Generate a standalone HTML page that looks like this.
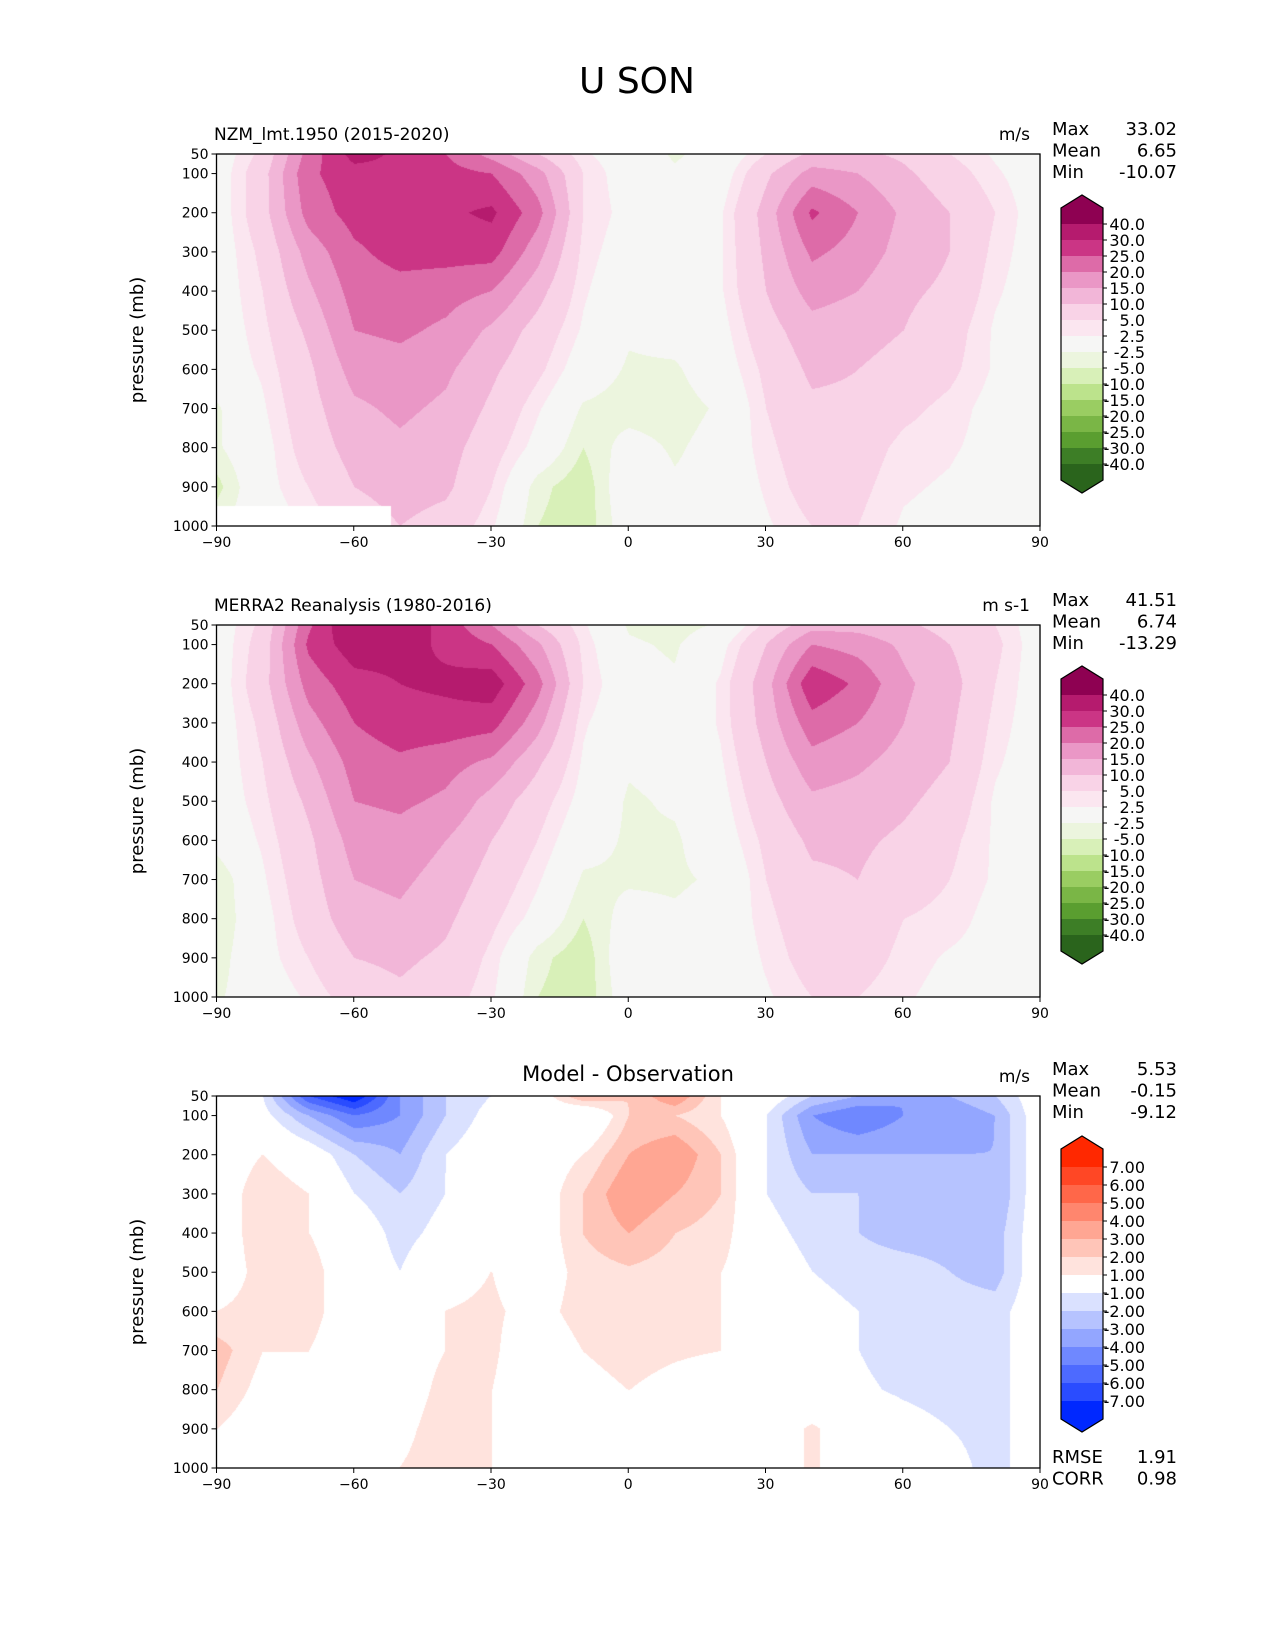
<!DOCTYPE html>
<html><head><meta charset="utf-8">
<style>
body{margin:0;background:#fff;}
#wrap{position:relative;width:1275px;height:1650px;overflow:hidden;background:#fff;font-family:"DejaVu Sans","Liberation Sans",sans-serif;}
canvas{position:absolute;}
svg{position:absolute;left:0;top:0;}
</style></head>
<body>
<div id="wrap">
<canvas id="c1"></canvas>
<canvas id="c2"></canvas>
<canvas id="c3"></canvas>
<svg id="svg" width="1275" height="1650"></svg>
</div>
<script>
const lats = [-90,-80,-70,-60,-50,-40,-30,-20,-10,0,10,20,30,40,50,60,70,80,90];
const pres = [50,100,200,300,400,500,600,700,800,900,1000];
const xTicks = [-90,-60,-30,0,30,60,90];
const yTicks = [50,100,200,300,400,500,600,700,800,900,1000];
const uLevels = [-40,-30,-25,-20,-15,-10,-5,-2.5,2.5,5,10,15,20,25,30,40];
const uLabels = ["-40.0","-30.0","-25.0","-20.0","-15.0","-10.0","-5.0","-2.5","2.5","5.0","10.0","15.0","20.0","25.0","30.0","40.0"];
const dLevels = [-7,-6,-5,-4,-3,-2,-1,1,2,3,4,5,6,7];
const dLabels = ["-7.00","-6.00","-5.00","-4.00","-3.00","-2.00","-1.00","1.00","2.00","3.00","4.00","5.00","6.00","7.00"];
const modelU = [
[0,6,22,32,29,25,18,10,3,0,-3,-1,5,11,11,9,5,2,0],
[0,8,24,28,29,27,25,17,5,0,-2,0,9,17,15,11,7,3,0],
[0,8,22,27,28,29,31,22,5,1,0,2,12,26,20,14,10,5,0],
[0,6,17,24,27,27,27,17,4,0,0,2,11,21,18,13,10,4,0],
[0,5,14,22,23,22,20,12,3,-1,0,2,10,17,15,11,9,3,0],
[0,4,11,20,21,19,14,8,2,-2,-1,1,8,13,12,10,7,2,0],
[0,3,9,17,18,16,11,6,0,-3,-3,0,6,11,10,8,6,2,0],
[-3,2,8,14,16,14,9,3,-3,-4,-4,-2,5,9,9,6,4,1,0],
[-3,1,7,12,14,12,7,1,-5,-1,-3,-1,4,8,7,4,3,1,0],
[-6,1,5,10,12,11,5,-4,-7,1,-2,-1,3,7,6,3,2,0,0],
[-3,0,3,7,10,8,3,-5,-7,0,-2,-1,2,5,5,2,1,0,0]];
const obsU = [
[0,6,24,36,34,28,20,10,3,-3,-4,-2,6,13,13,11,8,5,0],
[0,7,26,33,32,29,25,16,4,-2,-3,1,10,20,18,14,10,6,0],
[0,8,22,28,30,31,33,22,5,-1,-2,3,13,29,24,16,12,5,0],
[0,6,18,25,28,28,27,17,3,-1,-2,3,12,23,20,15,11,4,0],
[0,5,14,22,24,22,19,11,2,-2,-1,2,10,18,16,13,10,3,0],
[0,4,11,20,21,19,13,7,1,-3,-2,1,8,14,13,11,8,2,0],
[-1,3,9,17,18,15,10,5,-1,-3,-3,0,6,11,11,9,6,2,0],
[-5,2,8,15,16,13,8,3,-3,-3,-3,-2,5,9,10,7,5,2,0],
[-5,1,7,13,14,11,6,1,-5,-1,-2,-1,4,8,8,5,4,1,0],
[-4,1,5,10,11,9,4,-4,-7,1,-1,-1,3,7,7,4,2,1,0],
[-3,0,3,7,9,7,3,-5,-7,0,-1,0,2,5,5,3,1,0,0]];
const diffU = [
[0,-1,-6,-8,-4,-2,-1,0,3,2,4,1,0,-2,-3,-4,-3,-2,0],
[0,-0.5,-3,-5,-4,-2,-0.5,0,-1,2,2,1,-1,-4,-5,-4,-4,-3,0],
[0,1,0,-2,-3,-1,0,0,1,3,4,2,-1,-3,-3,-3,-3,-3,0],
[0,1.8,1,-1,-2,-1,0,0,2,4,3,2,-1,-2,-2,-3,-3,-3,0],
[0,1.8,1,0,-1.5,-0.5,0,0,2,3,2,1.5,-0.5,-1.5,-2,-2.5,-2.5,-2.5,0],
[0,1.5,1.5,0,-1,0.5,1,0,1.5,1.8,1.5,1,0,-1,-1.5,-1.5,-2,-2.5,0],
[1,1.5,1.5,0,0,1,1.2,0.5,1.5,1.8,1.5,1,0,-0.5,-1,-1.5,-1.5,-1.5,0],
[2.5,1,1,0,0,1,1.2,0,1,1.5,1.2,1,0,-0.5,-1,-1.5,-1.5,-1.5,0],
[2,0.5,0.5,0,0,1.5,1,0,0.5,1,0.5,0,0,-0.5,-0.8,-1.2,-1.5,-1.5,0],
[1,0,0,0,0.5,1.8,1,0,-0.5,-1,0,0,0,1.2,0,-0.5,-1,-1.5,0],
[0,0,0,0,1,1.8,1,0,-1,-0.5,0,0,0,1.2,0,0,-0.5,-1.5,0]];
const modelStats = ["33.02","6.65","-10.07"];
const obsStats = ["41.51","6.74","-13.29"];
const diffStats = ["5.53","-0.15","-9.12"];
const diffScores = ["1.91","0.98"];

const uColors = ["#2a641c","#3d7e26","#5a9e30","#7ab646","#9acd62","#bce38c","#d8f0b8","#ecf5de","#f6f6f5","#fbe6f0","#f9d3e7","#f2b6d8","#ea97c6","#dd6ba8","#cb3585","#b51b6e","#8e0152"];
const dColors = ["#0028ff","#2a4cff","#4d6aff","#6f88ff","#93a6ff","#b6c3ff","#dae1ff","#ffffff","#ffe3dd","#ffc5b8","#ffa693","#ff866e","#ff6749","#ff4725","#ff2800"];

const AX0=216.5, AW=823.5, AH=372;
const tops=[154,625,1096];
function xs(lat){return AX0+(lat+90)/180*AW;}
function ys(p,top){return top+(p-50)/950*AH;}
const NS="http://www.w3.org/2000/svg";
const svg=document.getElementById('svg');
function mk(tag,attrs,parent){const e=document.createElementNS(NS,tag);for(const k in attrs)e.setAttribute(k,attrs[k]);(parent||svg).appendChild(e);return e;}
function txt(s,x,y,size,anchor,parent){const t=mk('text',{x:x,y:y,'font-size':size,'text-anchor':anchor||'start','font-family':'DejaVu Sans, Liberation Sans, sans-serif',fill:'#000'},parent);t.textContent=s;return t;}

function interp(grid,lat,p){
  let i=0;while(i<lats.length-2&&lat>lats[i+1])i++;
  let j=0;while(j<pres.length-2&&p>pres[j+1])j++;
  const tx=Math.min(1,Math.max(0,(lat-lats[i])/(lats[i+1]-lats[i])));
  const ty=Math.min(1,Math.max(0,(p-pres[j])/(pres[j+1]-pres[j])));
  const a=grid[j][i],b=grid[j][i+1],c=grid[j+1][i],d=grid[j+1][i+1];
  return (a*(1-tx)+b*tx)*(1-ty)+(c*(1-tx)+d*tx)*ty;
}
function hex(h){return [parseInt(h.substr(1,2),16),parseInt(h.substr(3,2),16),parseInt(h.substr(5,2),16)];}
function drawField(id,grid,levels,colors,top,mask){
  const cv=document.getElementById(id);
  const W=Math.round(AW),H=AH;
  cv.width=W;cv.height=H;cv.style.left=AX0+'px';cv.style.top=top+'px';
  const ctx=cv.getContext('2d');const im=ctx.createImageData(W,H);
  const rgb=colors.map(hex);
  for(let y=0;y<H;y++){const p=50+(y+0.5)/H*950;
    for(let x=0;x<W;x++){const lat=-90+(x+0.5)/W*180;
      let c;
      if(mask&&lat<mask[0]&&p>mask[1]){c=[255,255,255];}
      else{const v=interp(grid,lat,p)+0.013;let k=0;while(k<levels.length&&v>=levels[k])k++;c=rgb[k];}
      const o=(y*W+x)*4;im.data[o]=c[0];im.data[o+1]=c[1];im.data[o+2]=c[2];im.data[o+3]=255;}}
  ctx.putImageData(im,0,0);
}
drawField('c1',modelU,uLevels,uColors,tops[0],[-52,950]);
drawField('c2',obsU,uLevels,uColors,tops[1],null);
drawField('c3',diffU,dLevels,dColors,tops[2],null);

function axes(top,name){
  const g=mk('g',{});
  
  
  mk('rect',{x:AX0,y:top,width:AW,height:AH,fill:'none',stroke:'#000','stroke-width':1.3},g);
  xTicks.forEach(t=>{const x=xs(t);mk('line',{x1:x,x2:x,y1:top+AH,y2:top+AH+5,stroke:'#000','stroke-width':1},g);
    txt(t<0?'\u2212'+(-t):String(t),x,top+AH+21,14,'middle',g);});
  yTicks.forEach(t=>{const y=ys(t,top);mk('line',{x1:AX0-5,x2:AX0,y1:y,y2:y,stroke:'#000','stroke-width':1},g);
    txt(String(t),AX0-8,y+5,14,'end',g);});
  const yl=txt('pressure (mb)',0,0,18,'middle',g);
  yl.setAttribute('transform','translate(143,'+(top+AH/2)+') rotate(-90)');
  
  
}
axes(tops[0],'model');axes(tops[1],'obs');axes(tops[2],'diff');

function colorbar(levels,labels,colors,tipTop,first,step,name){
  const g=mk('g',{});
  
  
  const x0=1061,x1=1103,n=levels.length;
  const topBound=first, botBound=first+(n-1)*step;
  const top2=topBound-step;
  mk('polygon',{points:`${x0},${top2} ${(x0+x1)/2},${top2-13} ${x1},${top2} ${x1},${topBound} ${x0},${topBound}`,fill:colors[colors.length-1]},g);
  for(let k=0;k<n-1;k++){
    const lvIdx=n-1-k;
    mk('rect',{x:x0,y:topBound+k*step,width:x1-x0,height:step+0.5,fill:colors[lvIdx]},g);
  }
  const b2=botBound+step;
  mk('polygon',{points:`${x0},${botBound} ${x1},${botBound} ${x1},${b2} ${(x0+x1)/2},${b2+13} ${x0},${b2}`,fill:colors[0]},g);
  mk('polygon',{points:`${x0},${top2} ${(x0+x1)/2},${top2-13} ${x1},${top2} ${x1},${b2} ${(x0+x1)/2},${b2+13} ${x0},${b2}`,fill:'none',stroke:'#000','stroke-width':1.2},g);
  for(let k=0;k<n;k++){const y=topBound+k*step;const li=n-1-k;
    mk('line',{x1:x1,x2:x1+4,y1:y,y2:y,stroke:'#000','stroke-width':1},g);
    txt(labels[li],1145,y+6,16,'end',g);}
}
colorbar(uLevels,uLabels,uColors,195,224,16,'model-colorbar');
colorbar(uLevels,uLabels,uColors,666,695,16,'obs-colorbar');
colorbar(dLevels,dLabels,dColors,1135,1167,18,'diff-colorbar');

function stats(vals,y0,name,labelsArr){
  const names=labelsArr||['Max','Mean','Min'];
  vals.forEach((v,i)=>{const a=txt(names[i],1052,y0+i*21.5,18,'start');
    
    
    const b=txt(v,1177,y0+i*21.5,18,'end');
    
    });
}
stats(modelStats,135,'model');
stats(obsStats,606,'obs');
stats(diffStats,1075,'diff');
stats(diffScores,1463,'diff',['RMSE','CORR']);

let t;
t=txt('U SON',637,93,36,'middle');
t=txt('NZM_lmt.1950 (2015-2020)',214,140,17,'start');
t=txt('m/s',1030,140,17,'end');
t=txt('MERRA2 Reanalysis (1980-2016)',214,611,17,'start');
t=txt('m s-1',1030,611,17,'end');
t=txt('Model - Observation',628,1081,21,'middle');
t=txt('m/s',1030,1082,17,'end');
</script>
</body></html>
